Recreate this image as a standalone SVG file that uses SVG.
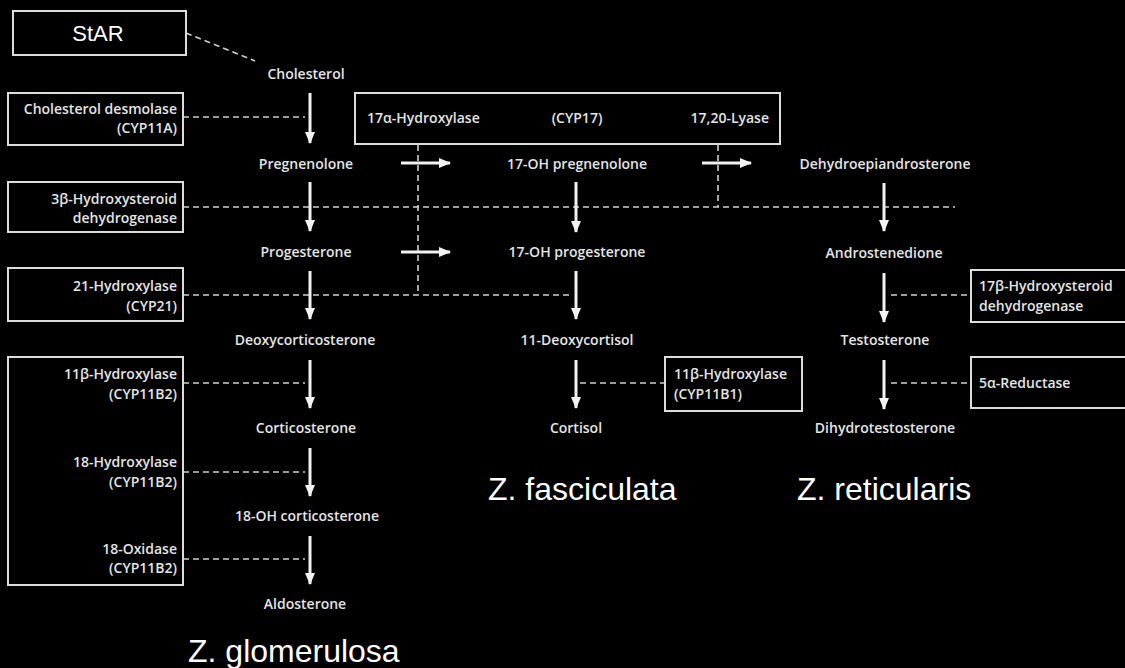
<svg xmlns="http://www.w3.org/2000/svg" width="1125" height="668" viewBox="0 0 1125 668">
<style>
.t{font-family:"Open Sans","Liberation Sans",sans-serif;font-weight:600;font-size:14px;fill:#e4e4e4}
.c{text-anchor:middle}
.r{text-anchor:end}
.box{fill:none;stroke:#dcdcdc;stroke-width:2}
.dash{fill:none;stroke:#cfcfcf;stroke-width:1.6;stroke-dasharray:6 4}
.arr{stroke:#f2f2f2;stroke-width:3;fill:none;marker-end:url(#ah)}
.zone{font-family:"Liberation Sans",Arial,sans-serif;font-size:32px;fill:#ffffff}
</style>
<defs>
<marker id="ah" markerUnits="userSpaceOnUse" markerWidth="12" markerHeight="12" refX="11" refY="5" orient="auto">
<path d="M0,0 L12,5 L0,10 Z" fill="#f2f2f2"/>
</marker>
</defs>
<rect x="0" y="0" width="1125" height="668" fill="#000"/>

<g id="connectors">
<line class="dash" x1="186" y1="33" x2="255" y2="61"/>
<line class="dash" x1="183" y1="117" x2="305" y2="117"/>
<line class="dash" x1="183" y1="207" x2="955" y2="207"/>
<line class="dash" x1="183" y1="295" x2="572" y2="295"/>
<line class="dash" x1="183" y1="383" x2="305" y2="383"/>
<line class="dash" x1="183" y1="472" x2="305" y2="472"/>
<line class="dash" x1="183" y1="559" x2="305" y2="559"/>
<line class="dash" x1="418" y1="145" x2="418" y2="295"/>
<line class="dash" x1="718" y1="145" x2="718" y2="207"/>
<line class="dash" x1="580" y1="383" x2="665" y2="383"/>
<line class="dash" x1="891" y1="295" x2="971" y2="295"/>
<line class="dash" x1="891" y1="383" x2="971" y2="383"/>

<line class="arr" x1="310" y1="93" x2="310" y2="143"/>
<line class="arr" x1="310" y1="182" x2="310" y2="231"/>
<line class="arr" x1="310" y1="271" x2="310" y2="319"/>
<line class="arr" x1="310" y1="360" x2="310" y2="408"/>
<line class="arr" x1="310" y1="448" x2="310" y2="496"/>
<line class="arr" x1="310" y1="536" x2="310" y2="584"/>
<line class="arr" x1="576" y1="182" x2="576" y2="232"/>
<line class="arr" x1="576" y1="271" x2="576" y2="319"/>
<line class="arr" x1="576" y1="360" x2="576" y2="408"/>
<line class="arr" x1="884" y1="183" x2="884" y2="231"/>
<line class="arr" x1="884" y1="273" x2="884" y2="322"/>
<line class="arr" x1="884" y1="360" x2="884" y2="409"/>
<line class="arr" x1="401" y1="163" x2="450" y2="163"/>
<line class="arr" x1="401" y1="252" x2="450" y2="252"/>
<line class="arr" x1="702" y1="163" x2="751" y2="163"/>
</g>

<g id="star">
<rect class="box" x="13" y="11" width="173" height="44"/>
<text x="98" y="41" style="font-family:'Liberation Sans',Arial,sans-serif;font-size:22px;fill:#fff" text-anchor="middle">StAR</text>
</g>

<g id="cholesterol"><text class="t c" x="306" y="79">Cholesterol</text></g>
<g id="pregnenolone"><text class="t c" x="306" y="169">Pregnenolone</text></g>
<g id="progesterone"><text class="t c" x="306" y="257">Progesterone</text></g>
<g id="deoxycorticosterone"><text class="t c" x="305" y="345">Deoxycorticosterone</text></g>
<g id="corticosterone"><text class="t c" x="306" y="433">Corticosterone</text></g>
<g id="oh18corticosterone"><text class="t c" x="307" y="521">18-OH corticosterone</text></g>
<g id="aldosterone"><text class="t c" x="305" y="609">Aldosterone</text></g>

<g id="oh17pregnenolone"><text class="t c" x="577" y="169">17-OH pregnenolone</text></g>
<g id="oh17progesterone"><text class="t c" x="577" y="257">17-OH progesterone</text></g>
<g id="deoxycortisol"><text class="t c" x="577" y="345">11-Deoxycortisol</text></g>
<g id="cortisol"><text class="t c" x="576" y="433">Cortisol</text></g>

<g id="dhea"><text class="t c" x="885" y="169">Dehydroepiandrosterone</text></g>
<g id="androstenedione"><text class="t c" x="884" y="258">Androstenedione</text></g>
<g id="testosterone"><text class="t c" x="885" y="345">Testosterone</text></g>
<g id="dht"><text class="t c" x="885" y="433">Dihydrotestosterone</text></g>

<g id="desmolase">
<rect class="box" x="8" y="93" width="175" height="52"/>
<text class="t r" x="177" y="114">Cholesterol desmolase</text>
<text class="t r" x="177" y="133">(CYP11A)</text>
</g>
<g id="hsd3b">
<rect class="box" x="8" y="182" width="175" height="50"/>
<text class="t r" x="177" y="204">3β-Hydroxysteroid</text>
<text class="t r" x="177" y="223">dehydrogenase</text>
</g>
<g id="cyp21">
<rect class="box" x="8" y="268" width="175" height="53"/>
<text class="t r" x="177" y="291">21-Hydroxylase</text>
<text class="t r" x="177" y="311">(CYP21)</text>
</g>
<g id="cyp11b2">
<rect class="box" x="8" y="357" width="175" height="228"/>
<text class="t r" x="177" y="379">11β-Hydroxylase</text>
<text class="t r" x="177" y="399">(CYP11B2)</text>
<text class="t r" x="177" y="467">18-Hydroxylase</text>
<text class="t r" x="177" y="487">(CYP11B2)</text>
<text class="t r" x="177" y="554">18-Oxidase</text>
<text class="t r" x="177" y="573">(CYP11B2)</text>
</g>
<g id="cyp17">
<rect class="box" x="355" y="93" width="425" height="51"/>
<text class="t" x="367" y="123">17α-Hydroxylase</text>
<text class="t c" x="577" y="123">(CYP17)</text>
<text class="t r" x="769" y="123">17,20-Lyase</text>
</g>
<g id="cyp11b1">
<rect class="box" x="665" y="357" width="137" height="54"/>
<text class="t" x="674" y="379">11β-Hydroxylase</text>
<text class="t" x="674" y="399">(CYP11B1)</text>
</g>
<g id="hsd17b">
<rect class="box" x="971" y="270" width="160" height="52"/>
<text class="t" x="979" y="291">17β-Hydroxysteroid</text>
<text class="t" x="979" y="311">dehydrogenase</text>
</g>
<g id="reductase">
<rect class="box" x="971" y="357" width="160" height="51"/>
<text class="t" x="979" y="388">5α-Reductase</text>
</g>

<g id="zones">
<text class="zone" x="188" y="662">Z. glomerulosa</text>
<text class="zone" x="488" y="500">Z. fasciculata</text>
<text class="zone" x="797" y="500">Z. reticularis</text>
</g>
</svg>
